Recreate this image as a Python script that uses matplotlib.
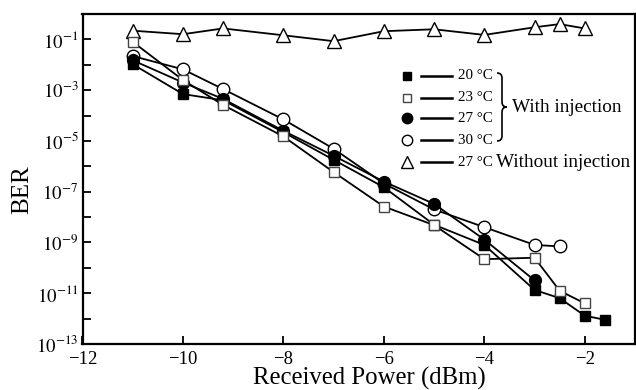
import matplotlib
matplotlib.use('Agg')
from matplotlib import pyplot as plt
from matplotlib.path import Path
from matplotlib.patches import PathPatch
import numpy as np

plt.rcParams['font.family'] = ['Liberation Serif', 'DejaVu Serif']
plt.rcParams['mathtext.fontset'] = 'stix'

# 20 C, with injection (filled squares)
p20 = [-11, -10, -9.2, -8, -7, -6, -5, -4, -3, -2.5, -2, -1.6]
ber20 = [1.05e-2, 7e-4, 4e-4, 2.2e-5, 1.8e-6, 1.5e-7, 5e-9, 8e-10, 1.35e-11, 6.4e-12, 1.3e-12, 9e-13]
# 23 C, with injection (open squares)
p23 = [-11, -10, -9.2, -8, -7, -6, -5, -4, -3, -2.5, -2]
ber23 = [8e-2, 2.5e-3, 2.6e-4, 1.5e-5, 5.9e-7, 2.6e-8, 4.8e-9, 2.2e-10, 2.5e-10, 1.25e-11, 4e-12]
# 27 C, with injection (filled circles)
p27 = [-11, -10, -9.2, -8, -7, -6, -5, -4, -3]
ber27 = [1.5e-2, 2e-3, 4.5e-4, 2.5e-5, 2.6e-6, 2.5e-7, 3.3e-8, 1.3e-9, 3.2e-11]
# 30 C, with injection (open circles)
p30 = [-11, -10, -9.2, -8, -7, -6, -5, -4, -3, -2.5]
ber30 = [2.2e-2, 6.6e-3, 1.1e-3, 7e-5, 4.9e-6, 2.1e-7, 2e-8, 4e-9, 8e-10, 7e-10]
# 27 C, without injection (open triangles)
pno = [-11, -10, -9.2, -8, -7, -6, -5, -4, -3, -2.5, -2]
berno = [0.22, 0.16, 0.27, 0.145, 0.085, 0.21, 0.25, 0.15, 0.30, 0.40, 0.27]

labels = ['20 °C', '23 °C', '27 °C', '30 °C', '27 °C']

fig = plt.figure(figsize=(6.36, 3.9), dpi=100)
ax = fig.add_axes([82.5/636, 46/390, (635-82.5)/636, (344-14)/390])

lw = 1.3
ax.plot(pno, berno, '-', color='black', lw=lw, marker='^', ms=10, mfc='white', mec='black', mew=1.0)
ax.plot(p30, ber30, '-', color='black', lw=lw, marker='o', ms=9, mfc='white', mec='black', mew=1.0)
ax.plot(p27, ber27, '-', color='black', lw=lw, marker='o', ms=8.5, mfc='black', mec='black')
ax.plot(p20, ber20, '-', color='black', lw=lw, marker='s', ms=7.5, mfc='black', mec='black')
ax.plot(p23, ber23, '-', color='black', lw=lw, marker='s', ms=7.5, mfc='white', mec='#444444', mew=1.0)

ax.set_yscale('log')
ax.set_xlim(-12, -1)
ax.set_ylim(1e-13, 1)
ax.set_xticks([-12, -10, -8, -6, -4, -2])
ax.set_xticklabels(['\u221212', '\u221210', '\u22128', '\u22126', '\u22124', '\u22122'])
ax.set_yticks([10.0**k for k in range(-13, 0)])
ax.set_yticklabels(['$10^{%d}$' % k if k % 2 else '' for k in range(-13, 0)])
ax.minorticks_off()
ax.tick_params(direction='in', length=6, width=1.3, labelsize=13.5, pad=3)
ax.tick_params(axis='x', pad=5)
for s in ax.spines.values():
    s.set_linewidth(1.6)
ax.set_xlabel('Received Power (dBm)', fontsize=17.8, labelpad=0)
ax.set_ylabel('BER', fontsize=18, labelpad=0)
ax.xaxis.set_label_coords(0.52, -0.07)
ax.yaxis.set_label_coords(-0.09, 0.467)

# legend, drawn in figure pixel coordinates (y measured from top)
def fx(x):
    return x / 636

def fy(y):
    return 1 - y / 390

rows = [75.7, 97.7, 118.3, 140.3, 162.3]
styles = [dict(marker='s', ms=6, mfc='black', mec='black'),
          dict(marker='s', ms=6, mfc='white', mec='#444444'),
          dict(marker='o', ms=7.5, mfc='black', mec='black'),
          dict(marker='o', ms=7.5, mfc='white', mec='black'),
          dict(marker='^', ms=8, mfc='white', mec='black')]
for y, st, lab in zip(rows, styles, labels):
    fig.lines.append(plt.Line2D([fx(406.5)], [fy(y)], transform=fig.transFigure, ls='none', mew=1.0, **st))
    fig.lines.append(plt.Line2D([fx(421), fx(452)], [fy(y), fy(y)], transform=fig.transFigure, color='black', lw=1.8))
    fig.text(fx(458), fy(y), lab, fontsize=10.8, va='center', ha='left')

# curly brace
top, mid, bot = 73, 107, 141
verts = [(497, top), (502, top), (502, top + 5),
         (502, mid - 5),
         (502, mid), (507, mid),
         (502, mid), (502, mid + 5),
         (502, bot - 5),
         (502, bot), (497, bot)]
codes = [Path.MOVETO, Path.CURVE3, Path.CURVE3, Path.LINETO,
         Path.CURVE3, Path.CURVE3, Path.CURVE3, Path.CURVE3,
         Path.LINETO, Path.CURVE3, Path.CURVE3]
verts = [(fx(x), fy(y)) for x, y in verts]
fig.patches.append(PathPatch(Path(verts, codes), transform=fig.transFigure, fill=False, lw=1.2, ec='black'))
fig.text(fx(512), fy(107), 'With injection', fontsize=13.9, va='center', ha='left')
fig.text(fx(496), fy(162.3), 'Without injection', fontsize=13.9, va='center', ha='left')

plt.savefig('out.png', dpi=100)
